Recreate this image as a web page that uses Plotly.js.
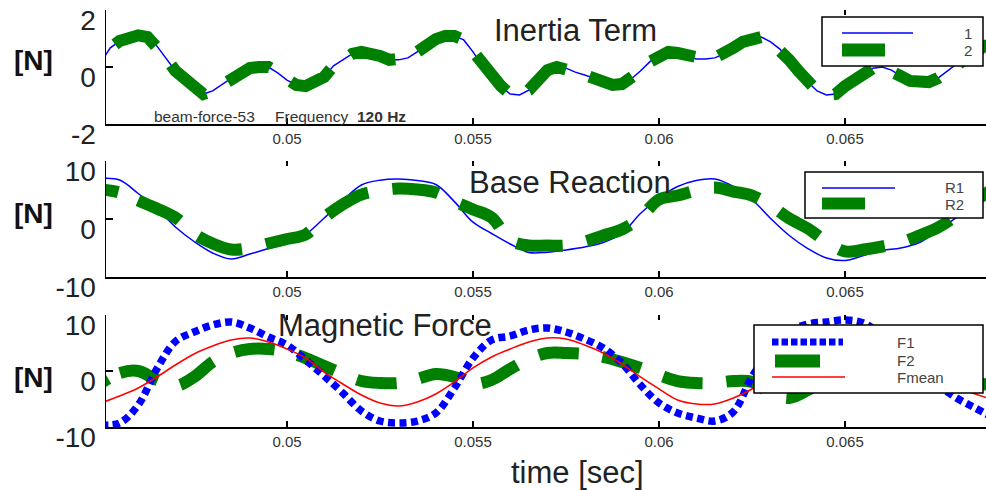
<!DOCTYPE html>
<html><head><meta charset="utf-8">
<script src="https://cdn.plot.ly/plotly-3.0.1.min.js"></script>
<style>html,body{margin:0;padding:0;background:#fff;}#chart{width:986px;height:490px;}</style>
</head><body><div id="chart"></div>
<script>
// ---------- data ----------
const tFine = [0.04500,0.04525,0.04550,0.04575,0.04600,0.04625,0.04650,0.04675,0.04700,0.04725,
0.04750,0.04775,0.04800,0.04825,0.04850,0.04875,0.04900,0.04925,0.04950,0.04975,
0.05000,0.05025,0.05050,0.05075,0.05100,0.05125,0.05150,0.05175,0.05200,0.05225,
0.05250,0.05275,0.05300,0.05325,0.05350,0.05375,0.05400,0.05425,0.05450,0.05475,
0.05500,0.05525,0.05550,0.05575,0.05600,0.05625,0.05650,0.05675,0.05700,0.05725,
0.05750,0.05775,0.05800,0.05825,0.05850,0.05875,0.05900,0.05925,0.05950,0.05975,
0.06000,0.06025,0.06050,0.06075,0.06100,0.06125,0.06150,0.06175,0.06200,0.06225,
0.06250,0.06275,0.06300,0.06325,0.06350,0.06375,0.06400,0.06425,0.06450,0.06475,
0.06500,0.06525,0.06550,0.06575,0.06600,0.06625,0.06650,0.06675,0.06700,0.06725,
0.06750,0.06775,0.06800,0.06825,0.06850,0.06875,0.06900];

const inertia1 = [0.18,0.67,0.91,1.05,1.11,1.05,0.74,0.32,-0.14,-0.42,
-0.67,-0.95,-0.84,-0.63,-0.39,-0.18,-0.04,0.00,0.00,-0.21,
-0.46,-0.63,-0.67,-0.56,-0.35,0.04,0.25,0.46,0.53,0.49,
0.39,0.25,0.25,0.32,0.53,0.81,0.98,1.09,1.09,0.95,
0.53,0.04,-0.32,-0.67,-0.95,-0.98,-0.81,-0.39,-0.11,0.00,
-0.04,-0.18,-0.28,-0.39,-0.56,-0.63,-0.60,-0.42,-0.14,0.18,
0.42,0.53,0.49,0.39,0.28,0.28,0.32,0.46,0.67,0.88,
1.02,1.05,0.88,0.63,0.25,-0.14,-0.53,-0.84,-0.98,-0.95,
-0.67,-0.46,-0.25,-0.04,0.00,-0.11,-0.32,-0.49,-0.56,-0.53,
-0.39,-0.14,0.11,0.35,0.60,0.74,0.81];

const inertia2 = [0.18,0.67,0.91,1.05,1.11,1.05,0.74,0.32,-0.14,-0.42,
-0.67,-0.95,-0.84,-0.63,-0.39,-0.18,-0.04,0.00,0.00,-0.21,
-0.46,-0.63,-0.67,-0.56,-0.35,0.04,0.25,0.46,0.53,0.49,
0.39,0.25,0.25,0.32,0.53,0.81,0.98,1.09,1.09,0.95,
0.53,0.04,-0.32,-0.67,-0.95,-0.98,-0.81,-0.39,-0.11,0.00,
-0.04,-0.18,-0.28,-0.39,-0.56,-0.63,-0.60,-0.42,-0.14,0.18,
0.42,0.53,0.49,0.39,0.28,0.28,0.32,0.46,0.67,0.88,
1.02,1.05,0.88,0.63,0.25,-0.14,-0.53,-0.84,-0.98,-0.95,
-0.67,-0.46,-0.25,-0.04,0.00,-0.11,-0.32,-0.49,-0.56,-0.53,
-0.39,-0.14,0.11,0.35,0.60,0.74,0.81];

const tCoarse = [0.0450,0.0455,0.0460,0.0465,0.0470,0.0475,0.0480,0.0485,0.0490,0.0495,
0.0500,0.0505,0.0510,0.0515,0.0520,0.0525,0.0530,0.0535,0.0540,0.0545,
0.0550,0.0555,0.0560,0.0565,0.0570,0.0575,0.0580,0.0585,0.0590,0.0595,
0.0600,0.0605,0.0610,0.0615,0.0620,0.0625,0.0630,0.0635,0.0640,0.0645,
0.0650,0.0655,0.0660,0.0665,0.0670,0.0675,0.0680,0.0685,0.0690];

const reactionR1 = [6.98,6.72,4.40,1.81,-1.38,-3.88,-5.86,-6.90,-6.05,-5.09,
-4.28,-2.67,0.17,3.19,5.86,6.70,6.90,6.64,5.95,3.00,
-0.55,-2.50,-4.31,-5.78,-5.72,-5.34,-4.83,-4.05,-2.50,0.95,
3.62,5.60,6.64,6.90,5.60,3.36,0.09,-2.84,-5.09,-6.72,
-7.16,-6.29,-5.43,-5.00,-4.05,-1.98,0.26,2.33,4.05];

const reactionR2 = [5.09,4.57,3.19,1.81,0.26,-2.50,-4.22,-5.26,-5.00,-4.22,
-3.45,-2.67,0.26,2.53,4.22,4.91,5.26,5.09,4.57,3.02,
1.64,0.26,-3.70,-4.57,-4.57,-4.57,-3.88,-2.84,-1.81,0.26,
3.36,4.05,4.91,5.43,4.74,4.05,2.33,0.09,-1.64,-3.88,
-5.60,-5.26,-4.74,-4.05,-2.84,-1.47,0.60,3.19,5.26];

const magF1 = [-9.64,-9.29,-6.07,0.36,5.27,6.96,8.21,8.75,7.68,6.07,
4.64,1.96,-0.89,-3.93,-7.14,-8.93,-9.29,-8.93,-7.50,-3.04,
2.32,5.54,6.25,7.32,7.68,6.96,5.71,4.11,1.43,-2.50,
-5.71,-7.50,-8.39,-8.93,-7.27,-1.02,3.60,7.00,8.39,8.75,
9.11,8.57,6.43,3.75,0.54,-2.50,-4.82,-6.61,-8.39];

const magF2 = [-2.14,-0.36,0.00,-1.61,-2.68,-1.07,1.61,3.21,3.93,3.93,
3.39,2.32,0.90,-0.54,-1.79,-2.14,-2.14,-1.43,-0.54,-1.07,
-2.32,-1.61,0.36,2.14,3.21,3.21,3.04,2.50,1.61,0.54,
-0.71,-1.79,-2.14,-2.14,-1.79,-1.96,-3.93,-4.82,-3.39,-1.25,
1.07,1.96,2.32,1.96,0.89,-0.18,-1.25,-2.14,-2.50];

const magFmean = [-5.71,-4.46,-3.04,-1.07,1.07,3.04,4.46,5.54,5.89,5.18,
3.93,2.32,-0.18,-2.32,-4.29,-5.71,-6.25,-5.54,-4.11,-1.96,
0.54,2.50,3.93,5.18,5.89,5.71,4.64,3.21,1.25,-1.07,
-3.21,-5.18,-5.89,-5.89,-4.82,-3.21,-1.07,1.43,3.75,5.18,
5.89,5.54,4.29,2.50,0.54,-1.43,-3.04,-4.11,-5.18];

const xTickVals = [0.05,0.055,0.06,0.065];
const xTickText = ['0.05','0.055','0.06','0.065'];
const y1TickVals = [-2,0,2];
const y1TickText = ['-2','0','2'];
const y23TickVals = [-10,0,10];
const y23TickText = ['-10','0','10'];

const titles = ['Inertia Term','Base Reaction','Magnetic Force'];
const legend1Labels = ['1','2'];
const legend2Labels = ['R1','R2'];
const legend3Labels = ['F1','F2','Fmean'];

// ---------- styling / layout ----------
const W = 986, H = 490;
const PX = v => v / W, PY = v => 1 - v / H;
const BLUE = '#0000ff', GREEN = '#008000', RED = '#ff0000';
const FONT = 'Liberation Sans, Arial, sans-serif';
const xRange = [0.045134, 0.06879];
const xDom = [106 / W, 1];

// dash pattern: first dash, first gap, then repeated dash/gap
function dashSeq(first, gap1, d, g, n) {
  const a = [first, gap1];
  for (let i = 0; i < n; i++) a.push(d, g);
  return a.map(v => v + 'px').join(',');
}

function xAxis(anchor) {
  return {domain: xDom, range: xRange, anchor: anchor, showline: true, linecolor: '#000', linewidth: 1.5,
    ticks: 'inside', ticklen: 6, tickwidth: 1.2, tickcolor: '#000', tickvals: xTickVals, ticktext: xTickText,
    tickfont: {family: FONT, size: 15, color: '#333'}, showgrid: false, zeroline: false, fixedrange: true};
}
function topAxis(over, anchor, tv) {
  return {overlaying: over, anchor: anchor, side: 'top', domain: xDom, range: xRange, showline: false,
    ticks: 'inside', ticklen: 5, tickwidth: 1.2, tickcolor: '#000', tickvals: tv,
    showticklabels: false, showgrid: false, zeroline: false, fixedrange: true};
}
function yAxis(anchor, dom, rng, tv, tt) {
  return {domain: dom, range: rng, anchor: anchor, showline: true, linecolor: '#000', linewidth: 1.5,
    ticks: 'inside', ticklen: 7, tickwidth: 1.2, tickcolor: '#000', tickvals: tv, ticktext: tt,
    ticklabelshift: 10, ticklabelstandoff: 3,
    tickfont: {family: FONT, size: 28, color: '#222'}, showgrid: false, zeroline: false, fixedrange: true};
}

const traces = [
  {x: tFine, y: inertia1, xaxis: 'x', yaxis: 'y', mode: 'lines', line: {color: BLUE, width: 1.5}, name: legend1Labels[0]},
  {x: tFine, y: inertia2, xaxis: 'x', yaxis: 'y', mode: 'lines', line: {color: GREEN, width: 12, dash: dashSeq(0, 22.6, 46.7, 24.5, 20)}, name: legend1Labels[1]},
  {x: tCoarse, y: reactionR1, xaxis: 'x2', yaxis: 'y2', mode: 'lines', line: {color: BLUE, width: 1.5, shape: 'spline'}, name: legend2Labels[0]},
  {x: tCoarse, y: reactionR2, xaxis: 'x2', yaxis: 'y2', mode: 'lines', line: {color: GREEN, width: 12, shape: 'spline', dash: dashSeq(17.2, 21.7, 46.4, 24.4, 20)}, name: legend2Labels[1]},
  {x: tCoarse, y: magF2, xaxis: 'x3', yaxis: 'y3', mode: 'lines', line: {color: GREEN, width: 12, shape: 'spline', dash: dashSeq(8, 13.5, 40.2, 23.8, 22)}, name: legend3Labels[1]},
  {x: tCoarse, y: magF1, xaxis: 'x3', yaxis: 'y3', mode: 'lines', line: {color: BLUE, width: 7.5, shape: 'spline', dash: '7px,4.5px'}, name: legend3Labels[0]},
  {x: tCoarse, y: magFmean, xaxis: 'x3', yaxis: 'y3', mode: 'lines', line: {color: RED, width: 1.5, shape: 'spline'}, name: legend3Labels[2]},
  {x: [], y: [], xaxis: 'x4', yaxis: 'y', mode: 'lines', hoverinfo: 'skip'},
  {x: [], y: [], xaxis: 'x5', yaxis: 'y2', mode: 'lines', hoverinfo: 'skip'},
  {x: [], y: [], xaxis: 'x6', yaxis: 'y3', mode: 'lines', hoverinfo: 'skip'}
];

function hline(x0, x1, y, color, width, dash) {
  return {type: 'line', xref: 'paper', yref: 'paper', x0: PX(x0), x1: PX(x1), y0: PY(y), y1: PY(y),
    line: {color: color, width: width, dash: dash || 'solid'}};
}
function box(x0, x1, y0, y1) {
  return {type: 'rect', xref: 'paper', yref: 'paper', x0: PX(x0), x1: PX(x1), y0: PY(y1), y1: PY(y0),
    fillcolor: '#fff', line: {color: '#000', width: 1.5}, layer: 'above'};
}
const shapes = [
  box(822, 983, 17, 66), hline(842, 913, 33, BLUE, 1.5), hline(842, 885, 50, GREEN, 13),
  box(805, 983, 172, 218), hline(822, 895, 188, BLUE, 1.5), hline(822, 865, 203.5, GREEN, 12),
  box(754, 983, 325, 393), hline(772, 843, 342, BLUE, 7, '6.5px,3px'), hline(775, 820, 361, GREEN, 13), hline(772, 845, 377, RED, 1.5)
];

function ann(text, x, y, size, opts) {
  return Object.assign({text: text, xref: 'paper', yref: 'paper', x: PX(x), y: PY(y), showarrow: false,
    xanchor: 'center', yanchor: 'middle', font: {family: FONT, size: size, color: '#222'}}, opts || {});
}
const small = {family: FONT, size: 15, color: '#444'};
const annotations = [
  ann(titles[0], 575, 31, 31),
  ann(titles[1], 570, 182, 31),
  ann(titles[2], 385, 325, 31),
  ann('<b>[N]</b>', 33, 61, 28, {font: {family: FONT, size: 28, color: '#111'}}),
  ann('<b>[N]</b>', 33, 213, 28, {font: {family: FONT, size: 28, color: '#111'}}),
  ann('<b>[N]</b>', 33, 377, 28, {font: {family: FONT, size: 28, color: '#111'}}),
  ann('time [sec]', 577, 472, 31),
  ann('beam-force-53', 152, 117, 15.5, {xanchor: 'left', font: {family: FONT, size: 15.5, color: '#333'}}),
  ann('Frequency', 273, 117, 15.5, {xanchor: 'left', font: {family: FONT, size: 15.5, color: '#333'}}),
  ann('<b>120 Hz</b>', 355, 117, 15.5, {xanchor: 'left', font: {family: FONT, size: 15.5, color: '#333'}}),
  ann(legend1Labels[0], 974, 33, 15, {xanchor: 'right', font: small}),
  ann(legend1Labels[1], 974, 50, 15, {xanchor: 'right', font: small}),
  ann(legend2Labels[0], 966, 188, 15, {xanchor: 'right', font: small}),
  ann(legend2Labels[1], 966, 204, 15, {xanchor: 'right', font: small}),
  ann(legend3Labels[0], 895, 342, 15, {xanchor: 'left', font: small}),
  ann(legend3Labels[1], 895, 360, 15, {xanchor: 'left', font: small}),
  ann(legend3Labels[2], 895, 377, 15, {xanchor: 'left', font: small})
];

const layout = {
  width: W, height: H, margin: {l: 0, r: 0, t: 0, b: 0}, paper_bgcolor: '#fff', plot_bgcolor: '#fff',
  showlegend: false, font: {family: FONT},
  xaxis: xAxis('y'), xaxis2: xAxis('y2'), xaxis3: xAxis('y3'),
  xaxis4: topAxis('x', 'y', [0.065]), xaxis5: topAxis('x2', 'y2', xTickVals), xaxis6: topAxis('x3', 'y3', xTickVals),
  yaxis: yAxis('x', [1 - 124 / H, 1 - 10 / H], [-2, 2], y1TickVals, y1TickText),
  yaxis2: yAxis('x2', [1 - 277 / H, 1 - 161 / H], [-10, 10], y23TickVals, y23TickText),
  yaxis3: yAxis('x3', [1 - 427 / H, 1 - 315 / H], [-10, 10], y23TickVals, y23TickText),
  shapes: shapes, annotations: annotations
};
Plotly.newPlot('chart', traces, layout, {staticPlot: true, displayModeBar: false});
</script></body></html>
